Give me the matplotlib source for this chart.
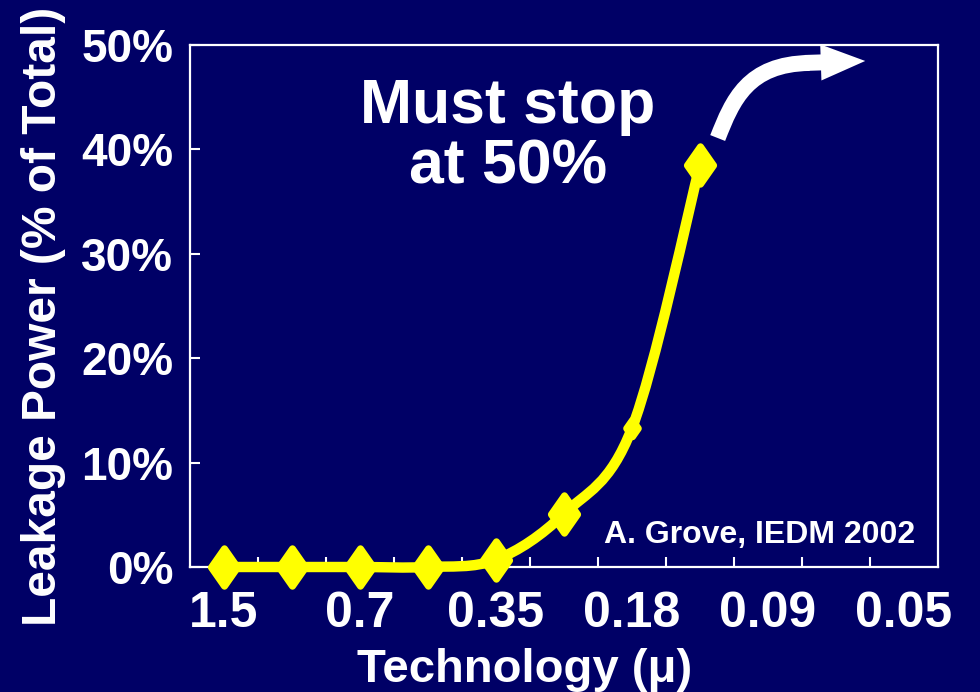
import numpy as np
import matplotlib.pyplot as plt
from matplotlib.path import Path
from matplotlib.markers import MarkerStyle
from matplotlib.patches import PathPatch, FancyArrowPatch

plt.rcParams['font.family'] = ['Liberation Sans', 'DejaVu Sans']
plt.rcParams['font.weight'] = 'bold'

# technology generations (micron), one label every second slot
tech_labels = ['1.5', '0.7', '0.35', '0.18', '0.09', '0.05']
label_slots = [0, 2, 4, 6, 8, 10]

# leakage power share per generation
node_slot = [0, 1, 2, 3, 4, 5, 6, 7]
leak_pct = [0.0, 0.0, 0.0, 0.0, 0.7, 5.1, 13.3, 38.5]
marker_ms = [27, 27, 27, 27, 27, 27, 12, 27]

BG = '#000066'
YEL = '#FFFF00'

fig = plt.figure(figsize=(9.8, 6.92), dpi=100, facecolor=BG)
ax = fig.add_axes([190 / 980, 1 - 567 / 692, 748 / 980, 522 / 692])
ax.set_facecolor(BG)
for s in ax.spines.values():
    s.set_color('white')
    s.set_linewidth(1.6)

ax.set_xlim(-0.5, 10.5)
ax.set_ylim(0, 50)

# smooth line through the points (Catmull-Rom as cubic Bezier)
pts = np.column_stack([node_slot, leak_pct]).astype(float)
ext = np.vstack([pts[0], pts, pts[-1]])
verts = [pts[0]]
codes = [Path.MOVETO]
for i in range(len(pts) - 1):
    p0, p1, p2, p3 = ext[i], ext[i + 1], ext[i + 2], ext[i + 3]
    verts += [p1 + (p2 - p0) / 6, p2 - (p3 - p1) / 6, p2]
    codes += [Path.CURVE4] * 3
curve = PathPatch(Path(verts, codes), fill=False, edgecolor=YEL, lw=7.5,
                  capstyle='round', joinstyle='round', clip_on=False, zorder=3)
ax.add_patch(curve)

# tall diamond markers with rounded corners
diamond = Path([(0, 1), (0.7, 0), (0, -1), (-0.7, 0), (0, 1)],
               [Path.MOVETO, Path.LINETO, Path.LINETO, Path.LINETO, Path.CLOSEPOLY])
dmark = MarkerStyle(diamond, joinstyle='round')
for x, y, ms in zip(node_slot, leak_pct, marker_ms):
    ax.plot(x, y, marker=dmark, ms=ms, mfc=YEL, mec=YEL, mew=5,
            clip_on=False, zorder=4)

# white arrow heading for 50%
shaft = Path([(7.26, 41.09), (7.48, 44.73), (7.70, 48.18), (8.61, 48.28)],
             [Path.MOVETO, Path.CURVE4, Path.CURVE4, Path.CURVE4])
ax.add_patch(PathPatch(shaft, fill=False, edgecolor='white', lw=11.5,
                       capstyle='butt', clip_on=False, zorder=3))
ax.add_patch(FancyArrowPatch((8.54, 48.28), (9.43, 48.47),
                             arrowstyle='simple,head_length=32,head_width=26,tail_width=11.5',
                             mutation_scale=1, shrinkA=0, shrinkB=0,
                             fc='white', ec='none', clip_on=False, zorder=3))

ax.set_xticks(label_slots)
ax.set_xticklabels(tech_labels)
ax.set_xticks(np.arange(0.5, 10, 1), minor=True)
ax.tick_params(axis='x', which='major', length=0, pad=17, labelsize=36,
               labelcolor='white')
ax.tick_params(axis='x', which='minor', direction='in', length=7, width=1.5,
               color='white')
ax.set_yticks(range(0, 51, 10))
ax.yaxis.set_major_formatter(lambda v, p: f'{v:.0f}%')
ax.tick_params(axis='y', direction='in', length=7, width=1.5, color='white',
               labelsize=33, labelcolor='white', pad=12)

fig.text(44 / 980, 1 - 316 / 692, 'Leakage Power (% of Total)', rotation=90,
         ha='center', va='center', fontsize=34.5, color='white')
fig.text(525 / 980, 1 - 682 / 692, 'Technology (\u03bc)', ha='center',
         va='baseline', fontsize=34, color='white')

fig.text(508 / 980, 1 - 123 / 692, 'Must stop', ha='center', va='baseline',
         fontsize=45, color='white')
fig.text(508 / 980, 1 - 183 / 692, 'at 50%', ha='center', va='baseline',
         fontsize=45, color='white')
fig.text(915 / 980, 1 - 543 / 692, 'A. Grove, IEDM 2002', ha='right',
         va='baseline', fontsize=23, color='white')

fig.savefig('out.png', dpi=100, facecolor=BG)
